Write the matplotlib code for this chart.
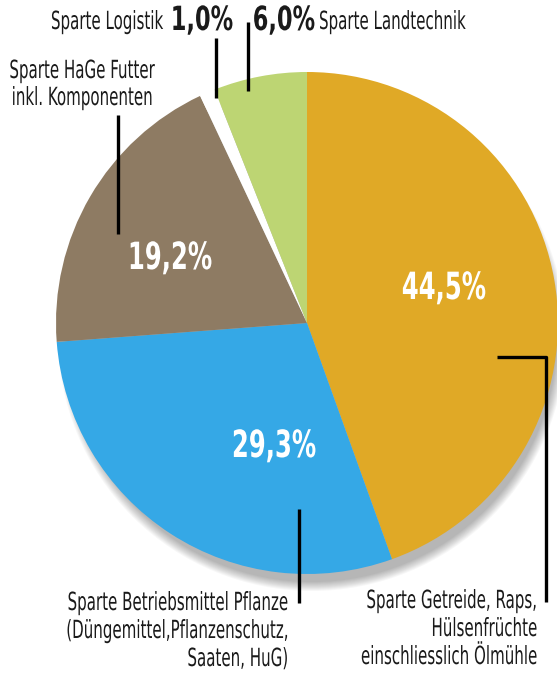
import matplotlib.pyplot as plt
from matplotlib.patches import Circle
from matplotlib.patheffects import AbstractPathEffect
from matplotlib.transforms import Affine2D, Bbox
from matplotlib.text import Text
from matplotlib import font_manager

# Daten
sparten = ['Getreide', 'Betriebsmittel', 'Futter', 'Logistik', 'Landtechnik']
anteile = [44.5, 29.3, 19.2, 1.0, 6.0]
farben = ['#E0A926', '#35A8E6', '#8E7B63', '#FFFFFF', '#BDD573']

# schmale Schrift suchen
schmal = None
schmal_fett = None
for f in font_manager.fontManager.ttflist:
    s = str(f.stretch).lower()
    n = f.name.lower() + ' ' + f.fname.lower()
    if 'condensed' in s or 'condensed' in n or 'narrow' in n:
        if 'oblique' in n or 'italic' in n or f.style != 'normal':
            continue
        if f.weight in ('bold', 700) or 'bold' in n:
            schmal_fett = schmal_fett or f.fname
        else:
            schmal = schmal or f.fname

if schmal:
    normal = font_manager.FontProperties(fname=schmal, size=18)
    fett = font_manager.FontProperties(fname=schmal_fett or schmal, size=24, weight='bold')
    fett_gross = font_manager.FontProperties(fname=schmal_fett or schmal, size=27, weight='bold')
else:
    normal = font_manager.FontProperties(family='DejaVu Sans', size=18)
    fett = font_manager.FontProperties(family='DejaVu Sans', size=24, weight='bold')
    fett_gross = font_manager.FontProperties(family='DejaVu Sans', size=27, weight='bold')


class Schmal(AbstractPathEffect):
    """Schrift horizontal stauchen (um die Ankerposition)."""
    def __init__(self, text, sx):
        super().__init__()
        self.text = text
        self.sx = sx

    def draw_path(self, renderer, gc, tpath, affine, rgbFace=None):
        px = self.text.anker_x()
        t = affine + Affine2D().translate(-px, 0).scale(self.sx, 1).translate(px, 0)
        renderer.draw_path(gc, tpath, t, rgbFace)


class SchmalText(Text):
    def __init__(self, *args, sx=1.0, **kwargs):
        super().__init__(*args, **kwargs)
        self.sx = sx
        self.set_path_effects([Schmal(self, sx)])

    def anker_x(self):
        return self.get_transform().transform(self.get_unitless_position())[0]

    def get_window_extent(self, renderer=None, dpi=None):
        bb = super().get_window_extent(renderer, dpi)
        px = self.anker_x()
        return Bbox([[px + (bb.x0 - px) * self.sx, bb.y0],
                     [px + (bb.x1 - px) * self.sx, bb.y1]])


def pct(v):
    return f'{v:.1f}'.replace('.', ',') + '%'


fig = plt.figure(figsize=(5.57, 6.77), dpi=100)
ax = fig.add_axes([0, 0, 1, 1])

cx, cy, r = 307, 323, 251

# weicher Schatten
for i in range(10):
    ax.add_patch(Circle((cx + 5, cy + 14), r + 3 - i, color='black', alpha=0.03, lw=0, zorder=0))

ax.pie(anteile, colors=farben, startangle=-90, counterclock=True,
       center=(cx, cy), radius=r, frame=True,
       wedgeprops=dict(linewidth=0))
ax.set_xlim(0, 557)
ax.set_ylim(677, 0)
ax.set_aspect('equal')
ax.axis('off')

tc = '#1a1a1a'


def txt(x, y, s, fp, ha, sx, color=tc, va='baseline'):
    t = SchmalText(x, y, s, fontproperties=fp, ha=ha, va=va, color=color, sx=sx)
    ax.add_artist(t)


# Prozentwerte in den Segmenten
txt(444, 289, pct(anteile[0]), fett_gross, 'center', 0.72, 'white', 'center')
txt(274, 447, pct(anteile[1]), fett_gross, 'center', 0.72, 'white', 'center')
txt(170, 259, pct(anteile[2]), fett_gross, 'center', 0.72, 'white', 'center')

# obere Beschriftungen
txt(163, 29, 'Sparte Logistik', normal, 'right', 0.67)
txt(202, 30, pct(anteile[3]), fett, 'center', 0.75)
txt(284, 30, pct(anteile[4]), fett, 'center', 0.75)
txt(319, 29, 'Sparte Landtechnik', normal, 'left', 0.67)

txt(82, 78, 'Sparte HaGe Futter', normal, 'center', 0.67)
txt(82, 105, 'inkl. Komponenten', normal, 'center', 0.67)

txt(288, 610, 'Sparte Betriebsmittel Pflanze', normal, 'right', 0.67)
txt(288, 638, '(Düngemittel,Pflanzenschutz,', normal, 'right', 0.67)
txt(288, 666, 'Saaten, HuG)', normal, 'right', 0.67)

txt(537, 608, 'Sparte Getreide, Raps,', normal, 'right', 0.67)
txt(537, 636, 'Hülsenfrüchte', normal, 'right', 0.67)
txt(537, 664, 'einschliesslich Ölmühle', normal, 'right', 0.67)

# Hinweislinien
lw = 2.4
ax.plot([216, 216], [38, 98], color='black', lw=lw, solid_capstyle='butt')
ax.plot([248, 248], [22, 91], color='black', lw=lw, solid_capstyle='butt')
ax.plot([118, 118], [115, 234], color='black', lw=lw, solid_capstyle='butt')
ax.plot([299, 299], [509, 603], color='black', lw=lw, solid_capstyle='butt')
ax.plot([497, 546, 546], [357, 357, 602], color='black', lw=lw, solid_capstyle='butt')

fig.savefig('out.png', dpi=100)
